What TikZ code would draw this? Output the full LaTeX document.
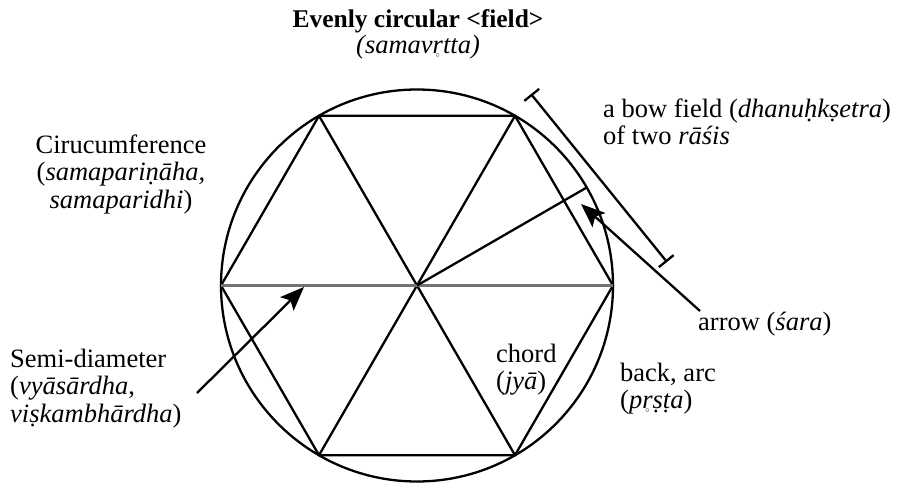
\documentclass[tikz,border=0pt]{standalone}
\usepackage{fontspec}
\setmainfont{Liberation Serif}
\usetikzlibrary{arrows.meta}
\newcommand\rring{\ooalign{r\cr\hidewidth\raisebox{-4pt}{\fontsize{8}{8}\selectfont$\circ$}\hidewidth\cr}}
\begin{document}
\begin{tikzpicture}[x=1pt,y=-1pt,
  lbl/.style={inner sep=0pt, font=\fontsize{26.5}{27.5}\selectfont},
  ln/.style={line width=2.3pt},
  ptr/.style={line width=2.3pt, -{Stealth[length=24pt,width=19pt,inset=5pt]}},
  bracket/.style={line width=2.3pt, {Bar[width=19pt]}-{Bar[width=19pt]}}]
\useasboundingbox (0,0) rectangle (898,485);
% geometry
\coordinate (C) at (417,285.5);
\coordinate (v1) at (613,285.5);
\coordinate (v2) at (515,115.8);
\coordinate (v3) at (319,115.8);
\coordinate (v4) at (221,285.5);
\coordinate (v5) at (319,455.2);
\coordinate (v6) at (515,455.2);
\coordinate (A) at (586.7,187.5);
\draw[ln] (C) circle[radius=196pt];
\draw[ln] (v1) -- (v2) -- (v3) -- (v4) -- (v5) -- (v6) -- cycle;
\draw[ln] (v2) -- (v5);
\draw[ln] (v3) -- (v6);
\draw[line width=2.6pt, gray!90!black] (v4) -- (v1);
\draw[ln] (C) -- (A);
% labels
\node[lbl, font=\fontsize{25.5}{27.5}\selectfont\bfseries, anchor=base] (title) at (418,27) {Evenly circular <field>};
\node[lbl, anchor=base] (titleskt) at (418,53) {\textit{(samav\rring tta)}};
\node[lbl, anchor=base] (circ) at (121,153) {\begin{tabular}[t]{@{}c@{}}Cirucumference\\(\textit{samapariṇāha,}\\\textit{samaparidhi})\end{tabular}};
\node[lbl, anchor=base west] (bow) at (603,117) {\begin{tabular}[t]{@{}l@{}}a bow field (\textit{dhanuḥkṣetra})\\of two \textit{rāśis}\end{tabular}};
\node[lbl, anchor=base west] (arrowlbl) at (698,330) {arrow (\textit{śara})};
\node[lbl, anchor=base west] (chord) at (496,362) {\begin{tabular}[t]{@{}l@{}}chord\\(\textit{jyā})\end{tabular}};
\node[lbl, anchor=base west] (back) at (620,381) {\begin{tabular}[t]{@{}l@{}}back, arc\\(\textit{p\rring ṣṭa})\end{tabular}};
\node[lbl, anchor=base west] (semi) at (10,367) {\begin{tabular}[t]{@{}l@{}}Semi-diameter\\(\textit{vyāsārdha},\\\textit{viṣkambhārdha})\end{tabular}};
% pointers
\coordinate (sdtail) at (197,393);
\coordinate (sdtip) at (304,287);
\draw[ptr] (sdtail) -- (sdtip);
\coordinate (sartail) at (700,311);
\coordinate (sartip) at (581,204);
\draw[ptr] (sartail) -- (sartip);
\coordinate (b1) at (531,94);
\coordinate (b2) at (667,262);
\draw[bracket] (b1) -- (b2);
\end{tikzpicture}
\end{document}
